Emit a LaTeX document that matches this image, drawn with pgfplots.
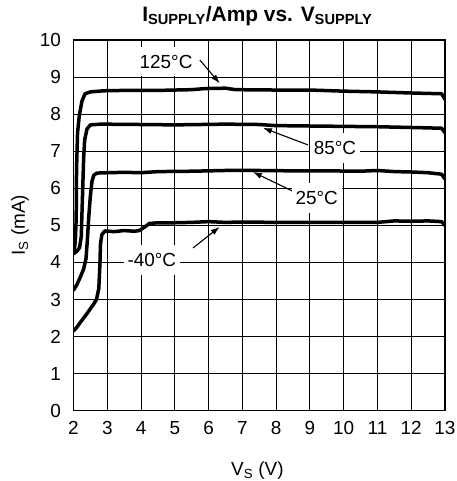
\documentclass[border=0pt]{standalone}
\usepackage{fontspec}
\setmainfont{Liberation Sans}
\usepackage{pgfplots}
\pgfplotsset{compat=1.18}
\usetikzlibrary{arrows.meta}
\pgfkeys{/pgf/number format/assume math mode=true}

\pgfplotstableread{
x y
2.00 4.22
2.03 4.35
2.06 4.7
2.08 5.2
2.09 6.5
2.12 7.5
2.17 7.95
2.25 8.35
2.34 8.55
2.5 8.6
2.9 8.63
3.5 8.64
4.5 8.64
5.5 8.66
5.9 8.69
6.5 8.70
6.8 8.66
8 8.65
9 8.65
10 8.62
11 8.60
12 8.57
12.9 8.55
13 8.4
}\tblA

\pgfplotstableread{
x y
2.02 4.25
2.1 4.3
2.18 4.4
2.23 4.7
2.25 5.3
2.28 6.2
2.30 6.8
2.33 7.3
2.40 7.6
2.50 7.71
2.8 7.73
4 7.72
5 7.71
6.5 7.73
7.5 7.72
8 7.69
9 7.68
10 7.67
11 7.66
12 7.64
12.9 7.62
13 7.5
}\tblB

\pgfplotstableread{
x y
2.00 3.25
2.1 3.4
2.2 3.6
2.3 3.82
2.37 4.1
2.41 4.6
2.45 5.2
2.50 5.8
2.55 6.2
2.60 6.35
2.69 6.41
3.0 6.42
3.5 6.43
4.0 6.42
4.5 6.45
5.5 6.46
6.5 6.48
7.5 6.48
8.5 6.47
9.5 6.47
10.5 6.46
11 6.48
11.5 6.45
12 6.44
12.5 6.42
12.9 6.38
13 6.25
}\tblC

\pgfplotstableread{
x y
2.00 2.15
2.1 2.25
2.2 2.38
2.3 2.5
2.4 2.62
2.5 2.75
2.6 2.88
2.68 3.0
2.75 3.3
2.78 3.9
2.80 4.5
2.84 4.75
2.93 4.85
3.2 4.83
3.5 4.86
3.8 4.84
3.95 4.86
4.1 4.95
4.25 5.05
4.5 5.07
5 5.07
5.5 5.08
6 5.10
6.5 5.08
7 5.09
8 5.08
9 5.08
10 5.08
11 5.08
11.5 5.12
12 5.11
12.5 5.12
12.9 5.10
13 5.0
}\tblD

\tikzset{curve/.style={black, line width=3.5bp, line join=round, line cap=round, mark=none},
         gl/.style={black, line width=0.9bp}}

\begin{document}
\begin{tikzpicture}
\begin{axis}[
  name=ax,
  scale only axis, width=371.5bp, height=370.7bp,
  xmin=2, xmax=13, ymin=0, ymax=10,
  xtick={2,...,13}, ytick={0,...,10},
  xmajorgrids=true, ymajorgrids=true,
  major grid style={black, line width=0.9bp},
  major tick style={black, line width=0.9bp},
  axis line style={black, line width=1.3bp},
  tick label style={font=\fontsize{19}{22}\selectfont, text=black},
  xticklabel style={yshift=-7bp},
  yticklabel style={xshift=-9bp},
  title={\bfseries I\textsubscript{SUPPLY}/Amp vs. V\textsubscript{SUPPLY}},
  title style={at={(rel axis cs:0.495,1.035)}, anchor=base, font=\fontsize{21}{24}\selectfont},
  xlabel={V\textsubscript{S} (V)},
  xlabel style={at={(rel axis cs:0.495,-0.1735)}, anchor=base, font=\fontsize{19}{22}\selectfont},
  ylabel={I\textsubscript{S} (mA)},
  ylabel style={at={(rel axis cs:-0.144,0.5)}, anchor=center, font=\fontsize{19}{22}\selectfont},
]
\draw[gl] (axis cs:3,0) -- (axis cs:3,10);
\draw[gl] (axis cs:4,0) -- (axis cs:4,10);
\draw[gl] (axis cs:5,0) -- (axis cs:5,10);
\draw[gl] (axis cs:6,0) -- (axis cs:6,10);
\draw[gl] (axis cs:7,0) -- (axis cs:7,10);
\draw[gl] (axis cs:8,0) -- (axis cs:8,10);
\draw[gl] (axis cs:9,0) -- (axis cs:9,10);
\draw[gl] (axis cs:10,0) -- (axis cs:10,10);
\draw[gl] (axis cs:11,0) -- (axis cs:11,10);
\draw[gl] (axis cs:12,0) -- (axis cs:12,10);
\draw[gl] (axis cs:2,1) -- (axis cs:13,1);
\draw[gl] (axis cs:2,2) -- (axis cs:13,2);
\draw[gl] (axis cs:2,3) -- (axis cs:13,3);
\draw[gl] (axis cs:2,4) -- (axis cs:13,4);
\draw[gl] (axis cs:2,5) -- (axis cs:13,5);
\draw[gl] (axis cs:2,6) -- (axis cs:13,6);
\draw[gl] (axis cs:2,7) -- (axis cs:13,7);
\draw[gl] (axis cs:2,8) -- (axis cs:13,8);
\draw[gl] (axis cs:2,9) -- (axis cs:13,9);

\addplot[curve] table[x=x,y=y] {\tblA};
\addplot[curve] table[x=x,y=y] {\tblB};
\addplot[curve] table[x=x,y=y] {\tblC};
\addplot[curve] table[x=x,y=y] {\tblD};

\draw[-{Latex[length=9bp,width=6bp]}, line width=1.1bp] (axis cs:5.74,9.46) -- (axis cs:6.33,8.83);
\draw[-{Latex[length=9bp,width=6bp]}, line width=1.1bp] (axis cs:8.94,7.17) -- (axis cs:7.61,7.63);
\draw[-{Latex[length=9bp,width=6bp]}, line width=1.1bp] (axis cs:8.61,5.87) -- (axis cs:7.31,6.44);
\draw[-{Latex[length=9bp,width=6bp]}, line width=1.1bp] (axis cs:5.54,4.39) -- (axis cs:6.33,4.96);

\node[fill=white, inner xsep=4bp, inner ysep=8bp, font=\fontsize{19}{22}\selectfont] at (axis cs:4.74,9.42) {125°C};
\node[fill=white, inner xsep=4bp, inner ysep=8bp, font=\fontsize{19}{22}\selectfont] at (axis cs:9.74,7.09) {85°C};
\node[fill=white, inner xsep=4bp, inner ysep=8bp, font=\fontsize{19}{22}\selectfont] at (axis cs:9.2,5.74) {25°C};
\node[fill=white, inner xsep=4bp, inner ysep=8bp, font=\fontsize{19}{22}\selectfont] at (axis cs:4.32,4.07) {-40°C};
\end{axis}
\pgfresetboundingbox
\path[use as bounding box] ([xshift=-73.5bp,yshift=-70.3bp]ax.south west) rectangle ([xshift=12bp,yshift=40bp]ax.north east);
\end{tikzpicture}
\end{document}
